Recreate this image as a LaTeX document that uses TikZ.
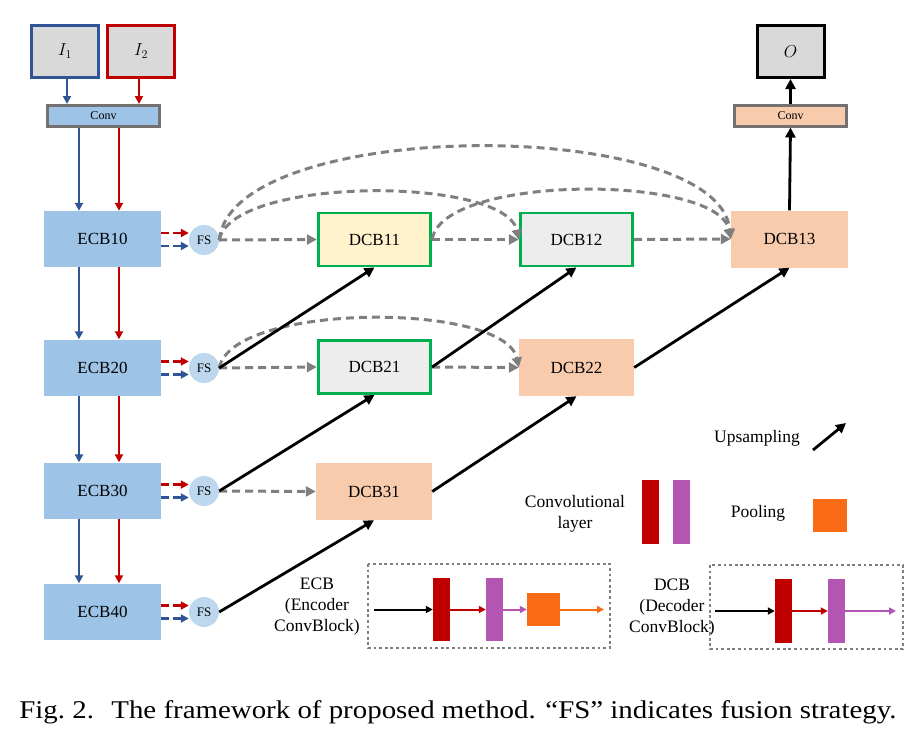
\documentclass[tikz,border=0pt]{standalone}
\usepackage{fontspec}
\setmainfont{Liberation Serif}
\usetikzlibrary{arrows.meta}
\definecolor{ecbblue}{HTML}{9DC3E6}
\definecolor{fsblue}{HTML}{BDD7EE}
\definecolor{dblue}{HTML}{2F5597}
\definecolor{dred}{HTML}{C00000}
\definecolor{boxgray}{HTML}{D9D9D9}
\definecolor{bordgray}{HTML}{767171}
\definecolor{dgreen}{HTML}{00B050}
\definecolor{lyellow}{HTML}{FFF2CC}
\definecolor{lgray}{HTML}{EDEDED}
\definecolor{peach}{HTML}{F8CBAD}
\definecolor{dashgray}{HTML}{7F7F7F}
\definecolor{purp}{HTML}{B455B4}
\definecolor{orng}{HTML}{F96B15}
\tikzset{
  lbl/.style={font=\fontsize{17}{18}\selectfont},
  inbox/.style={lbl, fill=boxgray, line width=3pt, minimum width=67pt, minimum height=52pt, inner sep=0pt},
  convbox/.style={draw=bordgray, line width=3pt, minimum width=112pt, minimum height=21pt, inner sep=0pt, font=\fontsize{12}{12}\selectfont},
  ecbbox/.style={lbl, fill=ecbblue, minimum width=117pt, minimum height=56pt, inner sep=0pt},
  dcbg/.style={lbl, draw=dgreen, line width=2.8pt, minimum width=112.5pt, minimum height=53pt, inner sep=0pt},
  dcbp/.style={lbl, fill=peach, minimum width=117pt, minimum height=57pt, inner sep=0pt},
  fsnode/.style={circle, fill=fsblue, minimum size=30pt, inner sep=0pt, font=\fontsize{13}{13}\selectfont},
  barr/.style={dblue, line width=2.8pt, -{Triangle[length=8pt,width=8pt]}},
  rarr/.style={dred, line width=2.8pt, -{Triangle[length=8pt,width=8pt]}},
  bdash/.style={barr, dash pattern=on 8pt off 4pt},
  rdash/.style={rarr, dash pattern=on 8pt off 4pt},
  gdash/.style={dashgray, line width=3pt, dash pattern=on 8pt off 5pt, -{Triangle[length=10pt,width=10pt]}},
  uparr/.style={black, line width=2.8pt, -{Triangle[length=10pt,width=10pt]}},
  legtxt/.style={font=\fontsize{17.5}{21}\selectfont, align=center},
  redbar/.style={fill=dred, minimum width=17pt, minimum height=64pt, inner sep=0pt},
  purbar/.style={fill=purp, minimum width=17pt, minimum height=64pt, inner sep=0pt},
  poolsq/.style={fill=orng, minimum width=34pt, minimum height=33pt, inner sep=0pt},
  thinarr/.style={line width=2pt, -{Triangle[length=7pt,width=7pt]}},
  dotbox/.style={draw=dashgray, line width=2.8pt, dash pattern=on 2.8pt off 2.8pt}
}
\begin{document}
\begin{tikzpicture}[x=1pt,y=-1pt]
\useasboundingbox (0,0) rectangle (917,745);

% inputs / output
\node[inbox, draw=dblue] (i1) at (65,51) {$I_1$};
\node[inbox, draw=dred] (i2) at (141,51) {$I_2$};
\node[convbox, fill=ecbblue] (conv1) at (103.5,116) {Conv};
\node[inbox, draw=black] (o) at (790.5,51.5) {$O$};
\node[convbox, fill=peach] (conv2) at (790.5,115.5) {Conv};

% encoder
\node[ecbbox] (e1) at (102.5,239) {ECB10};
\node[ecbbox] (e2) at (102.5,367.5) {ECB20};
\node[ecbbox] (e3) at (102.5,490.5) {ECB30};
\node[ecbbox] (e4) at (102.5,611.5) {ECB40};

\node[fsnode] (f1) at (204,240) {FS};
\node[fsnode] (f2) at (204,368) {FS};
\node[fsnode] (f3) at (204,491) {FS};
\node[fsnode] (f4) at (204,612) {FS};

% decoder
\node[dcbg, fill=lyellow] (d11) at (374.5,239.5) {DCB11};
\node[dcbg, fill=lgray] (d12) at (576.5,239.5) {DCB12};
\node[dcbp] (d13) at (789.5,239) {DCB13};
\node[dcbg, fill=lgray] (d21) at (374.5,367) {DCB21};
\node[dcbp, minimum width=115pt] (d22) at (576.5,367.5) {DCB22};
\node[dcbp, minimum width=116pt] (d31) at (374,491.5) {DCB31};

% input arrows
\draw[barr] ([xshift=2pt]i1.south) -- ([xshift=2pt]i1.south |- conv1.north);
\draw[rarr] ([xshift=-2pt]i2.south) -- ([xshift=-2pt]i2.south |- conv1.north);
\draw[barr] ([xshift=-24.5pt]conv1.south) -- ([xshift=-24.5pt]conv1.south |- e1.north);
\draw[rarr] ([xshift=15.5pt]conv1.south) -- ([xshift=15.5pt]conv1.south |- e1.north);
\foreach \a/\b in {e1/e2,e2/e3,e3/e4}{
  \draw[barr] ([xshift=-23.5pt]\a.south) -- ([xshift=-23.5pt]\a.south |- \b.north);
  \draw[rarr] ([xshift=16.5pt]\a.south) -- ([xshift=16.5pt]\a.south |- \b.north);
}
\foreach \a/\b in {e1/f1,e2/f2,e3/f3,e4/f4}{
  \draw[rdash] ([yshift=6pt]\a.east) -- ([yshift=6pt]\a.east -| \b.west);
  \draw[bdash] ([yshift=-7pt]\a.east) -- ([yshift=-7pt]\a.east -| \b.west);
}

% output arrows
\draw[uparr] (d13.north) -- (conv2.south);
\draw[uparr] (conv2.north) -- (o.south);

% skip connections
\draw[gdash] (f1.east) -- (d11.west);
\draw[gdash] (d11.east) -- (d12.west);
\draw[gdash] (d12.east) -- (d13.west);
\draw[gdash] (f2.east) -- (d21.west);
\draw[gdash] (d21.east) -- (d22.west);
\draw[gdash] (f3.east) -- (d31.west);
\draw[gdash] (f1.east) .. controls (232,176) and (505,176) .. (d12.west);
\draw[gdash] (f1.east) .. controls (232,116) and (718,116) .. (d13.west);
\draw[gdash] (d11.east) .. controls (442,174) and (718,174) .. (d13.west);
\draw[gdash] (f2.east) .. controls (232,302) and (505,302) .. (d22.west);

% upsampling
\draw[uparr] (f2.east) -- (d11.south);
\draw[uparr] (f3.east) -- (d21.south);
\draw[uparr] (f4.east) -- (d31.south);
\draw[uparr] (d21.east) -- (d12.south);
\draw[uparr] (d31.east) -- (d22.south);
\draw[uparr] (d22.east) -- (d13.south);

% legend
\node[legtxt] (tup) at (757,438) {Upsampling};
\coordinate (ua) at (813,450);
\coordinate (ub) at (846,423);
\draw[uparr] (ua) -- (ub);
\node[legtxt] (tconv) at (575,514) {Convolutional\\layer};
\node[redbar] (lr) at (650.5,512) {};
\node[purbar] (lp) at (681.5,512) {};
\node[legtxt] (tpool) at (758,513) {Pooling};
\node[poolsq] (lo) at (830,515) {};

% ECB block legend
\node[legtxt] (tecb) at (317,607) {ECB\\(Encoder\\ConvBlock)};
\draw[dotbox] (368,564) rectangle (610,648);
\coordinate (ein) at (374,609.5);
\node[redbar, minimum height=63pt] (er) at (441.5,609.5) {};
\node[purbar, minimum height=63pt] (ep) at (494.5,609.5) {};
\node[poolsq, minimum width=33pt] (eo) at (543.5,609.5) {};
\coordinate (eout) at (604,609.5);
\draw[thinarr, black] (ein) -- (er.west);
\draw[thinarr, dred] (er.east) -- (ep.west);
\draw[thinarr, purp] (ep.east) -- (eo.west);
\draw[thinarr, orng] (eo.east) -- (eout);

% DCB block legend
\node[legtxt] (tdcb) at (672,608) {DCB\\(Decoder\\ConvBlock)};
\draw[dotbox] (710,565) rectangle (903,649);
\coordinate (din) at (715,611);
\node[redbar] (dr) at (783.5,611) {};
\node[purbar] (dp) at (836.5,611) {};
\coordinate (dout) at (896,611);
\draw[thinarr, black] (din) -- (dr.west);
\draw[thinarr, dred] (dr.east) -- (dp.west);
\draw[thinarr, purp] (dp.east) -- (dout);

% caption
\node[font=\fontsize{25.5}{28}\selectfont] (cap) at (458,712) {\scalebox{1.133}[1]{Fig.~2.\hspace{0.6em}The framework of proposed method. “FS” indicates fusion strategy.}};
\end{tikzpicture}
\end{document}
